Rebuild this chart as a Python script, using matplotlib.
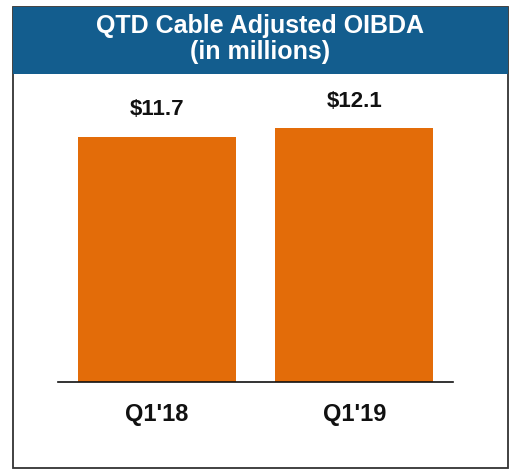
import matplotlib
matplotlib.use("Agg")
import matplotlib.pyplot as plt
from matplotlib.patches import Rectangle

categories = ["Q1'18", "Q1'19"]
values = [11.7, 12.1]
value_labels = ["$11.7", "$12.1"]
title = "QTD Cable Adjusted OIBDA\n(in millions)"

W, H = 514, 471
plt.rcParams['font.family'] = ['Liberation Sans', 'DejaVu Sans']
fig = plt.figure(figsize=(W / 100, H / 100), dpi=100)

def fx(px):
    return px / W

def fy(py):
    return 1 - py / H

# outer border
fig.patches.append(Rectangle((fx(13), fy(468)), fx(508) - fx(13), fy(7) - fy(468),
                             transform=fig.transFigure, facecolor='white',
                             edgecolor='#333333', linewidth=1.3, zorder=-2))
# header
fig.patches.append(Rectangle((fx(13), fy(74)), fx(508) - fx(13), fy(7) - fy(74),
                             transform=fig.transFigure, facecolor='#135d8e',
                             edgecolor='none', zorder=-1))
fig.text(fx(260), fy(39), title, ha='center', va='center', color='white',
         fontsize=18, fontweight='bold', linespacing=1.1)

ax = fig.add_axes([fx(58), fy(382), fx(453) - fx(58), fy(80) - fy(382)])
ax.set_zorder(5)
ax.set_facecolor('none')
x = list(range(len(categories)))
bars = ax.bar(x, values, width=0.8, color='#e36c09', edgecolor='none')
ax.set_xlim(-0.5, 1.5)
ax.set_ylim(0, 14.4)
for xi, v, lab in zip(x, values, value_labels):
    ax.annotate(lab, (xi, v), xytext=(0, 12), textcoords='offset points',
                ha='center', va='bottom', fontsize=16, fontweight='bold', color='#111111')
ax.set_xticks(x)
ax.set_xticklabels(categories, fontsize=17, fontweight='bold', color='#111111')
ax.tick_params(axis='x', length=0, pad=15)
ax.set_yticks([])
for s in ['top', 'right', 'left']:
    ax.spines[s].set_visible(False)
ax.spines['bottom'].set_color('#111111')
ax.spines['bottom'].set_linewidth(1.2)

fig.savefig("out.png", dpi=100)
